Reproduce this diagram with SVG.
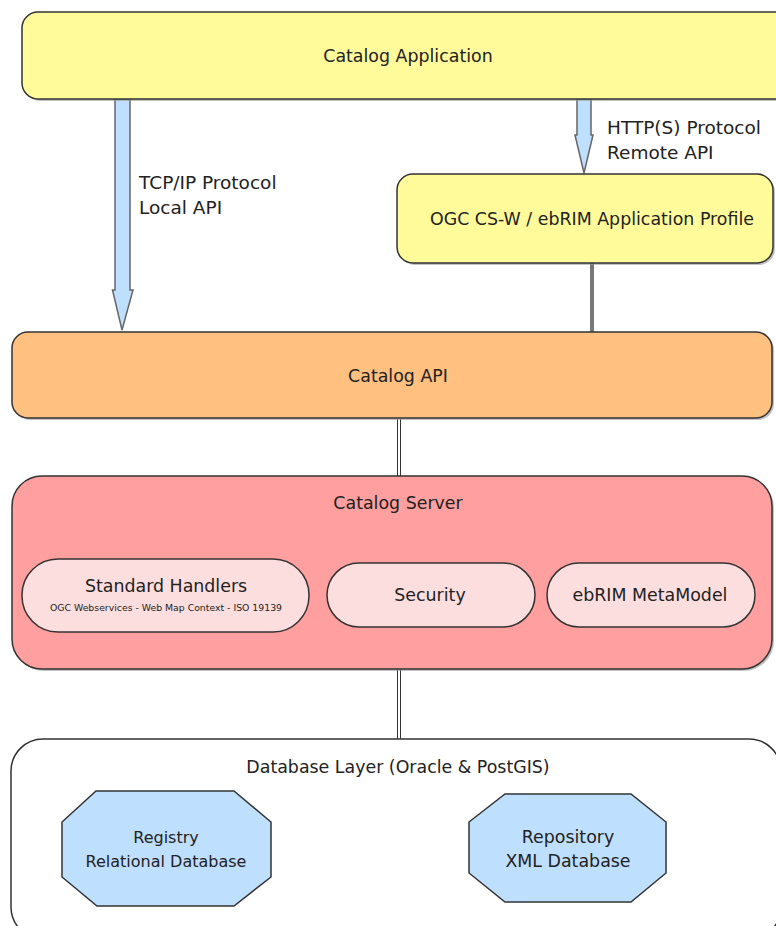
<svg xmlns="http://www.w3.org/2000/svg" width="776" height="926" viewBox="0 0 776 926">
<style>
text{font-family:"DejaVu Sans","Liberation Sans",sans-serif;fill:#222;text-anchor:middle}
.t{font-size:17.4px}
.o{font-size:16px}
.lbl{font-size:18.5px;text-anchor:start}
.box{stroke:#333;stroke-width:1.5}
.sh{fill:#999;opacity:0.6}
.arrow{fill:#BFDFFF;stroke:#666;stroke-width:1.5}
</style>
<rect width="776" height="926" fill="#fff"/>
<g id="connectors">
  <polygon class="arrow" points="115,99 130,99 130,290 133,290 122,330 112.5,290 115,290"/>
  <polygon class="arrow" points="577,99 591,99 591,135 593,135 584,173 575,135 577,135"/>
  <rect x="590" y="263" width="4" height="69" fill="#777"/>
  <line x1="397.5" y1="419" x2="397.5" y2="476" stroke="#333" stroke-width="1"/>
  <line x1="400.5" y1="419" x2="400.5" y2="476" stroke="#333" stroke-width="1"/>
  <line x1="397.5" y1="669" x2="397.5" y2="739" stroke="#333" stroke-width="1"/>
  <line x1="400.5" y1="669" x2="400.5" y2="739" stroke="#333" stroke-width="1"/>
  <text class="lbl" x="139" y="189">TCP/IP Protocol</text>
  <text class="lbl" x="139" y="214">Local API</text>
  <text class="lbl" x="607" y="134">HTTP(S) Protocol</text>
  <text class="lbl" x="607" y="159">Remote API</text>
</g>
<g id="catalog-application">
  <rect class="sh" x="24" y="14" width="770" height="87" rx="16"/>
  <rect class="box" x="22" y="12" width="770" height="87" rx="16" fill="#FFFB9B"/>
  <text class="t" x="408" y="62">Catalog Application</text>
</g>
<g id="ogc-csw">
  <rect class="sh" x="399" y="176" width="376" height="89" rx="16"/>
  <rect class="box" x="397" y="174" width="376" height="89" rx="16" fill="#FFFB9B"/>
  <text class="t" x="592" y="225">OGC CS-W  / ebRIM Application Profile</text>
</g>
<g id="catalog-api">
  <rect class="sh" x="14" y="334" width="760" height="86" rx="16"/>
  <rect class="box" x="12" y="332" width="760" height="86" rx="16" fill="#FFC080"/>
  <text class="t" x="398" y="382">Catalog API</text>
</g>
<g id="catalog-server">
  <rect class="sh" x="14" y="478" width="760" height="193" rx="30"/>
  <rect class="box" x="12" y="476" width="760" height="193" rx="30" fill="#FF9F9F"/>
  <text class="t" x="398" y="509">Catalog Server</text>
</g>
<g id="standard-handlers">
  <rect class="box" x="22" y="559" width="287" height="73" rx="36" fill="#FDDEDE" stroke-width="1.2"/>
  <text class="t" x="166" y="592">Standard Handlers</text>
  <text x="166" y="611" font-size="8.5" textLength="232" lengthAdjust="spacingAndGlyphs" style="font-family:'DejaVu Sans Condensed','Liberation Sans Narrow',sans-serif">OGC Webservices - Web Map Context - ISO 19139</text>
</g>
<g id="security">
  <rect class="box" x="327" y="563" width="208" height="64" rx="32" fill="#FDDEDE" stroke-width="1.2"/>
  <text class="t" x="430" y="601">Security</text>
</g>
<g id="ebrim-metamodel">
  <rect class="box" x="547" y="563" width="208" height="64" rx="32" fill="#FDDEDE" stroke-width="1.2"/>
  <text class="t" x="650" y="601">ebRIM MetaModel</text>
</g>
<g id="database-layer">
  <rect class="box" x="11" y="739" width="770" height="200" rx="32" fill="#fff"/>
  <text class="t" x="398" y="773">Database Layer (Oracle &amp; PostGIS)</text>
</g>
<g id="registry-db">
  <polygon class="box" points="96,791 234,791 271,822 271,877 234,906 97,906 62,877 62,822" fill="#BFDFFF" stroke-width="1.2"/>
  <text class="o" x="166" y="843">Registry</text>
  <text class="o" x="166" y="867">Relational Database</text>
</g>
<g id="repository-db">
  <polygon class="box" points="505,794 631,794 666,822 666,873 631,902 505,902 469,873 469,822" fill="#BFDFFF" stroke-width="1.2"/>
  <text class="t" x="568" y="843">Repository</text>
  <text class="t" x="568" y="867">XML Database</text>
</g>
</svg>
